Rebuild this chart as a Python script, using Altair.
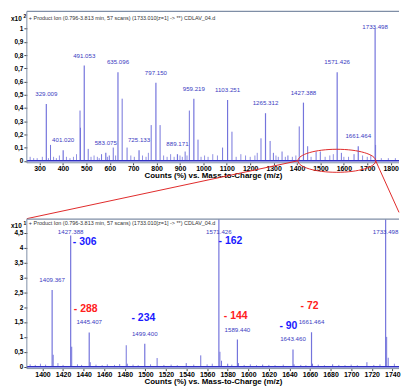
import altair as alt
import pandas as pd

# ---------------- top panel : Counts (%) x10^2 ----------------
top_peak_mass = [329.009, 401.020, 491.053, 583.075, 635.096, 725.133, 797.150, 889.171,
                 959.219, 1103.251, 1265.312, 1427.388, 1571.426, 1661.464, 1733.498]
top_peak_height = [0.43, 0.08, 0.72, 0.06, 0.67, 0.08, 0.59, 0.05,
                   0.47, 0.46, 0.36, 0.44, 0.67, 0.11, 1.00]
top_minor_mass = [347, 473, 475, 508, 565, 598, 615, 653, 674, 777, 815, 922, 940, 977,
                  1082, 1122, 1246, 1285, 1299, 1336, 1361, 1409.4, 1445.4, 1481.4,
                  1499.4, 1589.4, 1643.5, 1735.5]
top_minor_height = [0.12, 0.38, 0.25, 0.09, 0.05, 0.04, 0.10, 0.47, 0.10, 0.27, 0.27, 0.07,
                    0.38, 0.16, 0.10, 0.22, 0.17, 0.15, 0.06, 0.07, 0.04, 0.26, 0.11, 0.07,
                    0.07, 0.06, 0.05, 0.12]
top_noise_mass = [260, 275, 290, 312, 338, 360, 372, 385, 415, 430, 445, 458, 520, 533, 547,
                  555, 590, 625, 690, 705, 740, 755, 765, 830, 845, 860, 875, 900, 910, 930,
                  990, 1005, 1020, 1040, 1060, 1140, 1160, 1180, 1200, 1220, 1230, 1310, 1320,
                  1350, 1380, 1395, 1460, 1520, 1540, 1555, 1600, 1620, 1680, 1700, 1715, 1760,
                  1790, 1820]
top_noise_height = [0.03, 0.02, 0.02, 0.03, 0.02, 0.03, 0.02, 0.04, 0.03, 0.02, 0.03, 0.05,
                    0.03, 0.04, 0.03, 0.02, 0.03, 0.04, 0.04, 0.03, 0.04, 0.03, 0.06, 0.04,
                    0.03, 0.05, 0.03, 0.04, 0.03, 0.04, 0.03, 0.04, 0.03, 0.05, 0.04, 0.03,
                    0.05, 0.04, 0.03, 0.04, 0.06, 0.04, 0.03, 0.03, 0.03, 0.04, 0.03, 0.03,
                    0.04, 0.05, 0.03, 0.03, 0.04, 0.03, 0.04, 0.02, 0.02, 0.02]
top_ticks = list(range(300, 1900, 100))
top_yticks = [0, 0.1, 0.2, 0.3, 0.4, 0.5, 0.6, 0.7, 0.8, 0.9, 1.0]

# ---------------- bottom panel : Counts (%) x10^1 ----------------
bot_peak_mass = [1409.367, 1427.388, 1445.407, 1499.400, 1571.426, 1589.440, 1643.460,
                 1661.464, 1733.498]
bot_peak_height = [2.57, 4.40, 1.15, 0.77, 6.70, 0.91, 0.58, 1.16, 10.0]
bot_minor_mass = [1410.37, 1428.39, 1446.41, 1481.39, 1482.4, 1511.4, 1539.7, 1553.8,
                  1572.43, 1574.0, 1580.0, 1590.44, 1614.0, 1644.46, 1662.46, 1682.0,
                  1715.3, 1734.5, 1736.0]
bot_minor_height = [0.40, 0.67, 0.15, 0.72, 0.10, 0.29, 0.12, 0.38, 0.50, 0.20, 0.10, 0.12,
                    0.07, 0.08, 0.10, 0.08, 0.15, 1.00, 0.30]
bot_noise_mass = [1388, 1393, 1398, 1403, 1415, 1420, 1434, 1438, 1452, 1458, 1463, 1470,
                  1475, 1488, 1493, 1505, 1518, 1525, 1531, 1547, 1560, 1565, 1584, 1596,
                  1602, 1608, 1620, 1626, 1634, 1651, 1656, 1668, 1674, 1688, 1694, 1700,
                  1706, 1722, 1728, 1742]
bot_noise_height = [0.08, 0.06, 0.10, 0.07, 0.12, 0.06, 0.08, 0.06, 0.07, 0.05, 0.08, 0.06,
                    0.09, 0.07, 0.05, 0.08, 0.06, 0.07, 0.05, 0.07, 0.08, 0.10, 0.07, 0.06,
                    0.08, 0.05, 0.06, 0.05, 0.07, 0.06, 0.05, 0.07, 0.05, 0.06, 0.05, 0.07,
                    0.05, 0.06, 0.08, 0.10]
bot_ticks = list(range(1400, 1760, 20))
bot_yticks = [0, 0.5, 1, 1.5, 2, 2.5, 3, 3.5, 4, 4.5]

# neutral-loss annotations
ann_text = ["- 306", "- 162", "- 288", "- 234", "- 144", "- 90", "- 72"]
ann_mass = [1429.5, 1571.1, 1430.4, 1486.5, 1576.2, 1630.3, 1650.8]
ann_value = [4.18, 4.23, 1.92, 1.62, 1.71, 1.36, 2.04]
ann_color = ["#1a1aff", "#1a1aff", "#ff2020", "#1a1aff", "#ff2020", "#1a1aff", "#ff2020"]

header = "+ Product Ion (0.796-3.813 min, 57 scans) (1733.010[z=1] -> **) CDLAV_04.d"
axis_title = "Counts (%) vs. Mass-to-Charge (m/z)"

# zoom region marked on the top spectrum
zoom_left, zoom_center, zoom_right = 1404, 1570, 1736

W = 375
H1, H2, GAP = 152.5, 150.6, 56.3
PEAK = "#7474dc"
BASE = "#3030c4"
LABEL = "#3b3bbf"
RED = "#e02a2a"
FRAME = "#7f8ea6"
FONT = "Liberation Sans"

comma = "replace(format(datum.value, '~f'), '.', ',')"
one = pd.DataFrame({"k": [0]})


def panel(peaks_m, peaks_h, minor_m, minor_h, noise_m, noise_h, xdom, ydom, xticks, yticks,
          cap, power, clip, head_y, x10_y, H):
    xs = alt.Scale(domain=xdom, nice=False, zero=False)
    ys = alt.Scale(domain=ydom, nice=False, zero=False)
    xax = alt.Axis(values=xticks, tickCount=len(xticks) + 5, format="d", title=axis_title,
                   labelFontSize=7, labelFontWeight="bold", labelColor="black", tickSize=2,
                   tickColor="#444", labelPadding=0, domain=False, grid=False,
                   titleFontSize=8, titleFontWeight="bold", titleColor="black",
                   titlePadding=0, labelFlush=False, labelOverlap=False, labelFont=FONT,
                   titleFont=FONT)
    yax = alt.Axis(values=yticks, tickCount=len(yticks) + 5, title=None, labelExpr=comma,
                   labelFontSize=6.5, labelFontWeight="bold", labelColor="black", tickSize=3,
                   tickColor="#444", labelPadding=1, domain=False, grid=False,
                   labelOverlap=False, labelFont=FONT)
    noise = pd.DataFrame({"m": noise_m, "h": noise_h})
    minor = pd.DataFrame({"m": minor_m, "h": minor_h})
    main = pd.DataFrame({"m": peaks_m, "h": peaks_h,
                         "t": [f"{v:.3f}" for v in peaks_m]})

    l_noise = alt.Chart(noise).mark_rule(color=PEAK, strokeWidth=1, opacity=0.8, clip=clip).encode(
        x=alt.X("m:Q", scale=xs, axis=xax), y=alt.Y("h:Q", scale=ys, axis=yax), y2=alt.datum(0))
    l_minor = alt.Chart(minor).mark_rule(color=PEAK, strokeWidth=1, clip=clip).encode(
        x="m:Q", y="h:Q", y2=alt.datum(0))
    l_main = alt.Chart(main).mark_rule(color=PEAK, strokeWidth=1.2, clip=clip).encode(
        x="m:Q", y="h:Q", y2=alt.datum(0))
    l_base = alt.Chart(one).mark_rule(color=BASE, strokeWidth=1.6).encode(
        y=alt.datum(0), x=alt.value(0), x2=alt.value(W))
    l_lab = alt.Chart(main).transform_calculate(ly=f"min(datum.h, {cap})").mark_text(
        color=LABEL, fontSize=6.2, font=FONT, dy=-10, baseline="middle", align="center"
    ).encode(x="m:Q", y="ly:Q", text="t:N")
    l_head = alt.Chart(pd.DataFrame({"t": [header]})).mark_text(
        fontSize=5.5, font=FONT, color="#333", align="left", baseline="middle"
    ).encode(x=alt.value(2), y=alt.value(head_y), text="t:N")
    l_x10 = alt.Chart(pd.DataFrame({"t": ["x10"]})).mark_text(
        fontSize=6.5, font=FONT, fontWeight="bold", color="black", align="left",
        baseline="middle").encode(x=alt.value(-16), y=alt.value(x10_y), text="t:N")
    l_pow = alt.Chart(pd.DataFrame({"t": [power]})).mark_text(
        fontSize=5, font=FONT, fontWeight="bold", color="black", align="left",
        baseline="middle").encode(x=alt.value(-3.5), y=alt.value(x10_y - 3), text="t:N")
    # frame: top, left and bottom edges (right edge runs off the picture)
    f_top = alt.Chart(one).mark_rule(color=FRAME, strokeWidth=1.2).encode(
        x=alt.value(0), x2=alt.value(W), y=alt.value(0))
    f_bot = alt.Chart(one).mark_rule(color=FRAME, strokeWidth=1).encode(
        x=alt.value(0), x2=alt.value(W), y=alt.value(H))
    f_left = alt.Chart(one).mark_rule(color=FRAME, strokeWidth=1).encode(
        x=alt.value(0), y=alt.value(0), y2=alt.value(H))
    return [l_noise, l_minor, l_main, l_base, l_lab, l_head, l_x10, l_pow, f_top, f_bot, f_left]


top_layers = panel(top_peak_mass, top_peak_height, top_minor_mass, top_minor_height,
                   top_noise_mass, top_noise_height, [245.9, 1835.6], [-0.015, 1.13],
                   top_ticks, top_yticks, 0.94, "2", False, 6.7, 7.7, H1)

ellipse_path = ("M -1 0 C -1 -0.163 -0.552 -0.296 0 -0.296 C 0.552 -0.296 1 -0.163 1 0 "
                "C 1 0.163 0.552 0.296 0 0.296 C -0.552 0.296 -1 0.163 -1 0 Z")
l_ell = alt.Chart(pd.DataFrame({"m": [zoom_center], "h": [0]})).mark_point(
    shape=ellipse_path, size=6147, filled=False, stroke=RED, strokeWidth=1, opacity=1
).encode(x="m:Q", y="h:Q")
l_conn_l = alt.Chart(pd.DataFrame({"m": [zoom_left], "h": [0]})).mark_rule(
    color=RED, strokeWidth=1).encode(x="m:Q", y="h:Q", x2=alt.value(0), y2=alt.value(H1 + GAP))
l_conn_r = alt.Chart(pd.DataFrame({"m": [zoom_right], "h": [0]})).mark_rule(
    color=RED, strokeWidth=1).encode(x="m:Q", y="h:Q", x2=alt.value(W), y2=alt.value(202.5))

top = alt.layer(*top_layers, l_ell, l_conn_l, l_conn_r).properties(width=W, height=H1)

bot_layers = panel(bot_peak_mass, bot_peak_height, bot_minor_mass, bot_minor_height,
                   bot_noise_mass, bot_noise_height, [1384.8, 1746.5], [-0.064, 4.952],
                   bot_ticks, bot_yticks, 4.19, "1", True, 4.2, 7.4, H2)
ann = pd.DataFrame({"t": ann_text, "m": ann_mass, "v": ann_value, "c": ann_color})
l_ann = alt.Chart(ann).mark_text(fontSize=10.5, font=FONT, fontWeight="bold", align="left",
                                 baseline="middle").encode(
    x="m:Q", y="v:Q", text="t:N", color=alt.Color("c:N", scale=None))
bottom = alt.layer(*bot_layers, l_ann).properties(width=W, height=H2)

chart = alt.vconcat(top, bottom, spacing=GAP, bounds="flush").properties(
    padding={"left": 2, "top": 0, "right": 0, "bottom": 0}, background="white"
).configure_view(stroke="transparent").resolve_scale(x="independent", y="independent")

chart.save("out.html", embed_options={"renderer": "svg", "actions": False})
